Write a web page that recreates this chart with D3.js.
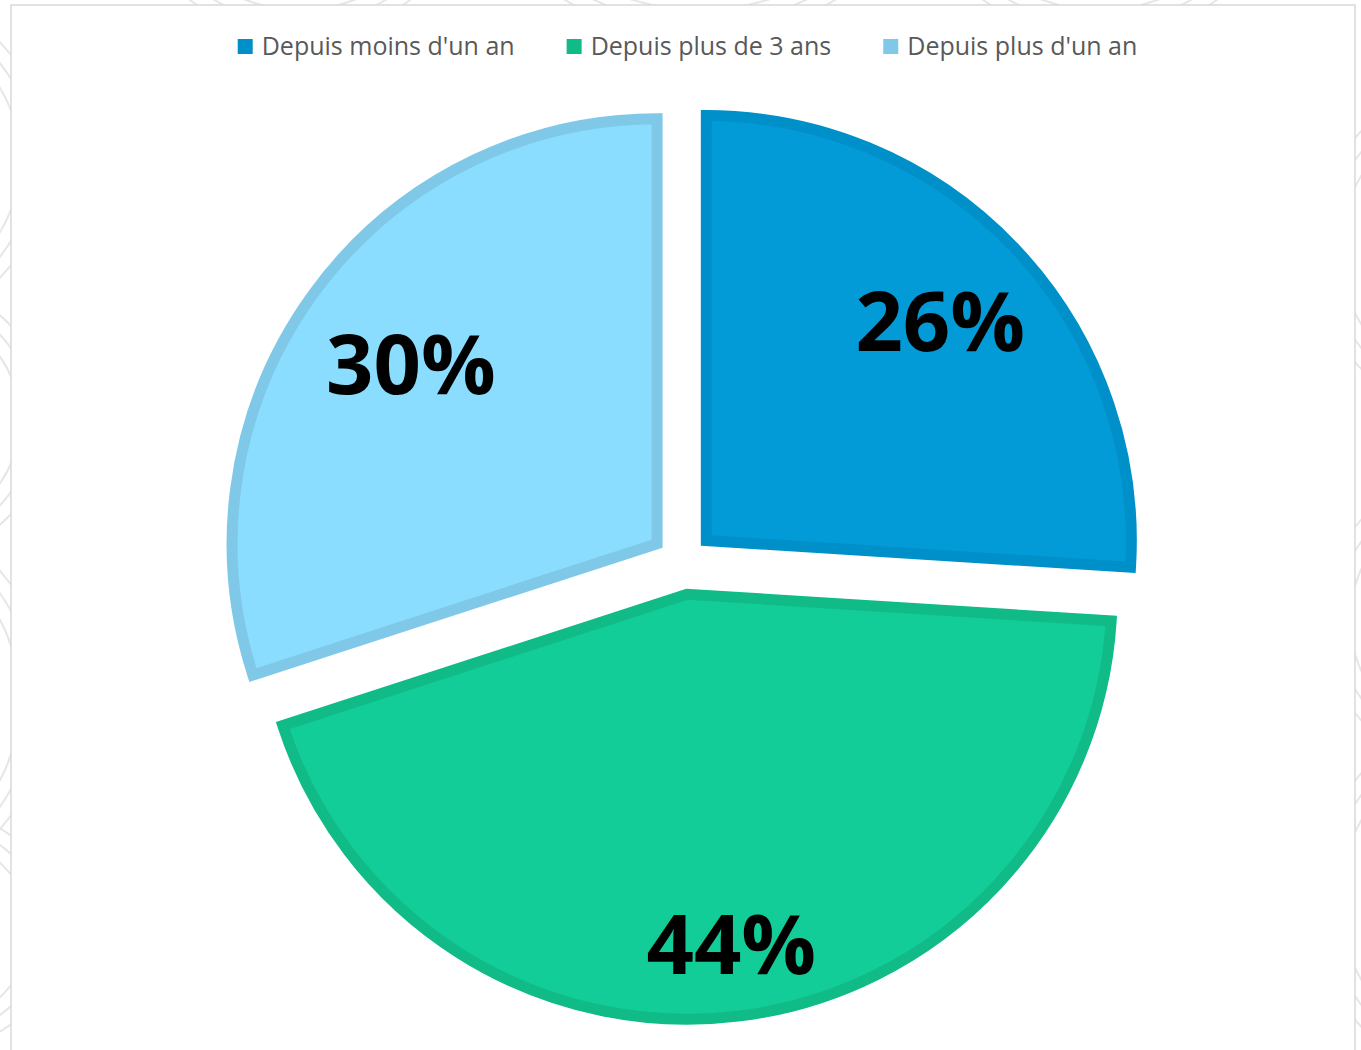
<!DOCTYPE html>
<html lang="fr">
<head>
<meta charset="utf-8">
<title>Ancienneté</title>
<script src="https://cdn.jsdelivr.net/npm/d3@7"></script>
<style>
  html, body { margin: 0; padding: 0; background: #ffffff; }
  svg { display: block; }
</style>
</head>
<body>
<svg id="chart" width="1361" height="1050"></svg>
<script>
// Données
const categories = ["Depuis moins d'un an", "Depuis plus de 3 ans", "Depuis plus d'un an"];
const values = [26, 44, 30];
const fillColors = ["#029bd7", "#13cd99", "#8addfe"];
const strokeColors = ["#0090c9", "#10bb87", "#7fc8e8"];
// distance of each value label from its slice centre, as a share of the radius
const labelRadii = [0.755, 0.831, 0.716];

const W = 1361, H = 1050;
const svg = d3.select("#chart");

// faint decorative swirls around the chart frame
const deco = svg.append("g").attr("fill", "none").attr("stroke", "#e6e6e6").attr("stroke-width", 2);
[[-120, 160, 140], [-90, 420, 110], [-150, 700, 170], [-60, 930, 90],
 [300, -140, 150], [700, -220, 230], [1100, -160, 170], [1480, 250, 140],
 [1470, 620, 120], [1500, 900, 160]].forEach(([x, y, r]) => {
  [0, 14, 28].forEach(k => deco.append("circle").attr("cx", x).attr("cy", y).attr("r", r + k));
});

// chart frame
svg.append("rect")
  .attr("x", 11).attr("y", 5).attr("width", 1344).attr("height", 1060)
  .attr("fill", "#ffffff").attr("stroke", "#d9d9d9").attr("stroke-width", 1.5);

// Légende
const legend = svg.append("g").attr("font-family", "'Open Sans', sans-serif")
  .attr("font-size", 25).attr("fill", "#595959");
const sw = 15, swGap = 9, itemGap = 52;
const items = legend.selectAll("g.item").data(categories).join("g").attr("class", "item");
items.append("rect").attr("width", sw).attr("height", sw).attr("y", 39)
  .attr("fill", (d, i) => strokeColors[i]);
items.append("text").attr("x", sw + swGap).attr("y", 55).text(d => d);
let widths = [];
items.each(function () { widths.push(this.querySelector("text").getComputedTextLength() + sw + swGap); });
const total = d3.sum(widths) + itemGap * (widths.length - 1);
let x0 = 687.5 - total / 2;
items.attr("transform", (d, i) => {
  const x = x0; x0 += widths[i] + itemGap; return `translate(${x},0)`;
});

// Secteurs
const cx = 683, cy = 562.5, R = 425, explode = 32;
const pie = d3.pie().sort(null).value(d => d.value);
const arcs = pie(categories.map((c, i) => ({ name: c, value: values[i], i })));
const arc = d3.arc().innerRadius(0).outerRadius(R);

const g = svg.append("g").attr("transform", `translate(${cx},${cy})`);
const slices = g.selectAll("g.slice").data(arcs).join("g").attr("class", "slice")
  .attr("transform", d => {
    const a = (d.startAngle + d.endAngle) / 2;
    return `translate(${explode * Math.sin(a)},${-explode * Math.cos(a)})`;
  });

slices.append("path")
  .attr("d", arc)
  .attr("fill", d => fillColors[d.data.i])
  .attr("stroke", d => strokeColors[d.data.i])
  .attr("stroke-width", 11)
  .attr("stroke-linejoin", "miter")
  .attr("stroke-miterlimit", 10);

slices.append("text")
  .attr("transform", d => {
    const r = R * labelRadii[d.data.i];
    const c = d3.arc().innerRadius(r).outerRadius(r).centroid(d);
    return `translate(${c[0]},${c[1]})`;
  })
  .attr("text-anchor", "middle")
  .attr("dy", "0.357em")
  .attr("font-family", "'Open Sans', sans-serif")
  .attr("font-weight", 700)
  .attr("font-size", 83)
  .attr("fill", "#000000")
  .text(d => d.data.value + "%");
</script>
</body>
</html>
